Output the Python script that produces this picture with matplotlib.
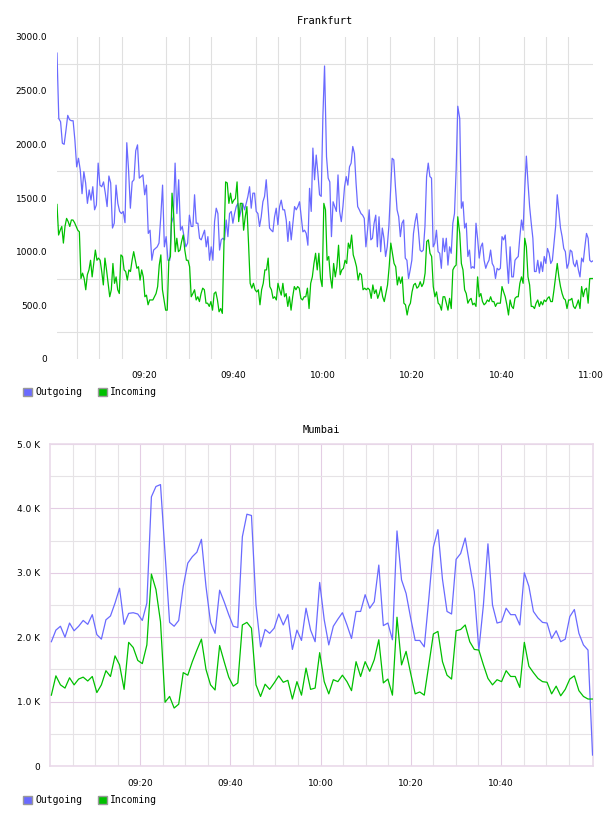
import numpy as np
import matplotlib
matplotlib.use("Agg")
import matplotlib.pyplot as plt
from matplotlib.patches import Patch

fra_out_a = [2850, 2240, 2210, 2010, 2000, 2130, 2270, 2230, 2220, 2220, 2040, 1790, 1870, 1760, 1540, 1745,
             1640, 1450, 1575, 1480, 1605, 1390, 1435, 1825, 1620, 1605, 1650, 1545, 1420, 1705, 1640, 1220,
             1265, 1620, 1450, 1375, 1355, 1375, 1270, 2015, 1760, 1405, 1650, 1670, 1940, 1995, 1685, 1700,
             1715, 1530, 1620, 1170, 1200, 920, 1015, 1030, 1045, 1080, 1325, 1620, 1045, 1140, 920, 920,
             1265, 1325, 1825, 1355, 1670, 1200, 1235, 1140, 1045, 1080, 1340, 1235]
fra_out_b = [1235, 1530, 1265, 1265, 1125, 1110, 1155, 1200, 1045, 1140, 920, 1045, 920, 1280, 1405, 1355,
             1015, 1110, 1125, 1110, 1295, 1140, 1355, 1375, 1265, 1355, 1420, 1450, 1325, 1390, 1450, 1390,
             1450, 1515, 1605, 1405, 1545, 1545, 1375, 1355, 1235, 1325, 1465, 1515, 1670, 1450, 1220, 1200,
             1185, 1325, 1405, 1250, 1420, 1480, 1390, 1390, 1295, 1095, 1280, 1110, 1265, 1420, 1390, 1420,
             1465, 1325, 1185, 1200, 1170, 1060, 1590, 1375, 1965, 1670, 1900, 1730, 1530, 1515, 2260, 2730]
fra_out_c = [1885, 1685, 1650, 1140, 1465, 1420, 1375, 1715, 1375, 1280, 1420, 1605, 1700, 1620, 1790, 1825,
             1980, 1915, 1640, 1420, 1390, 1355, 1340, 1310, 1045, 1200, 1390, 1110, 1125, 1265, 1340, 1045,
             1325, 1000, 1220, 1125, 955, 1045, 1235, 1545, 1870, 1855, 1605, 1390, 1325, 1140, 1265, 1295,
             940, 920, 750, 830, 920, 1170, 1280, 1355, 1200, 1015, 1000, 1015, 1235, 1700, 1825, 1700,
             1685, 1045, 1080, 1200, 1000, 985, 845, 1125, 1000, 1125, 875, 1045, 985, 1265, 1355, 1760, 2355]
fra_out_d = [2240, 1405, 1465, 1220, 1265, 955, 1015, 845, 860, 845, 1265, 1120, 940, 1045, 1080, 920,
             845, 890, 920, 1015, 890, 860, 750, 845, 830, 845, 1140, 1110, 1155, 920, 705, 1045,
             765, 765, 920, 940, 955, 1140, 1295, 1200, 1590, 1890, 1640, 1420, 1265, 1125, 815, 815,
             920, 800, 905, 815, 955, 890, 1030, 985, 890, 920, 1080, 1235, 1530, 1375, 1220, 1140,
             1030, 1000, 845, 890, 1015, 1000, 890, 860, 920, 830, 765, 940, 905, 1045, 1170, 1125,
             920, 905, 915]

fra_in_a = [1440, 1155, 1200, 1235, 1080, 1235, 1310, 1280, 1235, 1295, 1295, 1270, 1235, 1200, 1185, 750,
            800, 750, 645, 785, 830, 920, 765, 890, 1015, 920, 940, 920, 815, 690, 940, 830,
            705, 580, 645, 890, 705, 765, 645, 610, 970, 955, 830, 815, 735, 830, 815, 920,
            1000, 920, 845, 860, 735, 830, 765, 580, 595, 505, 550, 550, 550, 580, 610, 675,
            875, 970, 645, 550, 455, 455, 920, 955, 1545, 1355, 1000, 1125, 1000, 1015, 1095, 1155,
            1015, 920, 920, 860, 580]
fra_in_b = [610, 645, 550, 580, 535, 610, 660, 645, 520, 520, 490, 535, 455, 610, 625, 550,
            440, 470, 425, 1080, 1650, 1640, 1450, 1545, 1450, 1480, 1495, 1650, 1280, 1450, 1450, 1200,
            1325, 1420, 1080, 705, 660, 705, 645, 625, 645, 505, 645, 705, 830, 830, 940, 675,
            645, 565, 580, 550, 705, 645, 595, 705, 580, 610, 490, 580, 455, 580, 675, 645,
            675, 660, 565, 550, 580, 580, 660, 470, 705, 765, 890, 985, 830, 985, 750, 675]
fra_in_c = [1450, 1390, 920, 955, 765, 660, 890, 765, 860, 1060, 785, 830, 845, 920, 890, 1080,
            1030, 1155, 970, 920, 860, 735, 800, 785, 645, 660, 645, 660, 645, 565, 690, 610,
            645, 565, 610, 675, 580, 535, 610, 690, 860, 1080, 985, 890, 860, 690, 765, 705,
            765, 520, 505, 410, 490, 520, 625, 690, 705, 660, 675, 720, 675, 705, 800, 1095,
            1110, 985, 955, 675, 580, 625, 520, 505, 455, 580, 580, 520, 455, 565, 470, 830,
            860, 875, 1325]
fra_in_d = [1170, 890, 830, 645, 610, 520, 550, 565, 505, 520, 490, 765, 580, 610, 535, 505,
            520, 550, 535, 580, 535, 535, 490, 520, 520, 520, 675, 625, 580, 505, 410, 550,
            490, 470, 565, 580, 580, 705, 765, 705, 1125, 1045, 765, 690, 490, 490, 470, 520,
            550, 490, 535, 505, 550, 535, 565, 580, 535, 535, 645, 765, 890, 765, 675, 610,
            565, 550, 470, 550, 550, 565, 490, 470, 505, 550, 470, 675, 580, 645, 660, 520,
            750, 750, 750]

fra_out_spans = [(0.54, 30.58), (30.96, 60.43), (60.87, 90.25), (90.69, 120.52)]
fra_in_spans = [(0.54, 30.58), (30.96, 59.89), (60.27, 90.25), (90.69, 120.52)]

# Mumbai, one sample per minute, in thousands
mum_out_k = [1.93, 2.11, 2.17, 2.00, 2.22, 2.10, 2.17, 2.26, 2.20, 2.35, 2.04, 1.97, 2.27, 2.33, 2.53, 2.76,
             2.20, 2.37, 2.38, 2.36, 2.26, 2.53, 4.18, 4.34, 4.37, 3.30, 2.23, 2.17, 2.26, 2.79, 3.15, 3.25,
             3.32, 3.52, 2.79, 2.23, 2.06, 2.73, 2.55, 2.35, 2.17, 2.15, 3.56, 3.91, 3.89, 2.50, 1.85, 2.12,
             2.06, 2.14, 2.36, 2.19, 2.35, 1.81, 2.11, 1.95, 2.45, 2.11, 1.93, 2.85,
             2.27, 1.88, 2.17, 2.28, 2.38, 2.19, 1.98, 2.40, 2.40, 2.66, 2.45, 2.55, 3.12, 2.18, 2.22, 1.96,
             3.65, 2.89, 2.68, 2.30, 1.95, 1.95, 1.85, 2.60, 3.40, 3.67, 2.90, 2.40, 2.36, 3.21, 3.30, 3.54,
             3.12, 2.71, 1.80, 2.50, 3.45, 2.50, 2.22, 2.24, 2.45, 2.35, 2.35, 2.19, 3.00, 2.79, 2.40, 2.30,
             2.23, 2.22, 1.98, 2.10, 1.93, 1.97, 2.32, 2.43, 2.06, 1.88, 1.80, 0.17]
mum_in_k = [1.10, 1.40, 1.26, 1.21, 1.37, 1.26, 1.35, 1.38, 1.32, 1.39, 1.14, 1.26, 1.48, 1.39, 1.71, 1.57,
            1.19, 1.92, 1.84, 1.64, 1.59, 1.88, 2.98, 2.74, 2.24, 0.99, 1.08, 0.90, 0.96, 1.45, 1.41, 1.62,
            1.80, 1.97, 1.50, 1.26, 1.18, 1.87, 1.62, 1.38, 1.24, 1.29, 2.19, 2.23, 2.14, 1.26, 1.08, 1.27,
            1.19, 1.29, 1.40, 1.30, 1.33, 1.04, 1.31, 1.10, 1.52, 1.19, 1.21, 1.76,
            1.31, 1.12, 1.34, 1.31, 1.41, 1.31, 1.17, 1.62, 1.39, 1.62, 1.47, 1.65, 1.96, 1.29, 1.35, 1.10,
            2.31, 1.57, 1.78, 1.44, 1.12, 1.15, 1.10, 1.57, 2.05, 2.09, 1.62, 1.41, 1.35, 2.10, 2.12, 2.19,
            1.93, 1.81, 1.80, 1.57, 1.36, 1.26, 1.34, 1.31, 1.48, 1.39, 1.39, 1.22, 1.92, 1.55, 1.45, 1.36,
            1.31, 1.30, 1.12, 1.24, 1.09, 1.19, 1.35, 1.40, 1.17, 1.08, 1.04, 1.04]
mum_start, mum_end = 0.3, 120.3

time_ticks = [20, 40, 60, 80, 100, 120]
time_labels = ["09:20", "09:40", "10:00", "10:20", "10:40", "11:00"]

OUT_COLOR = "#6a6aff"
IN_COLOR = "#00c000"
MONO = "DejaVu Sans Mono"
SANS = "DejaVu Sans"


def stitch(segments, spans):
    ts, vs = [], []
    for vals, (t0, t1) in zip(segments, spans):
        ts.extend(np.linspace(t0, t1, len(vals)))
        vs.extend(vals)
    return np.array(ts), np.array(vs)


def add_legend(ax, y):
    handles = [Patch(facecolor=OUT_COLOR, edgecolor="#999999", linewidth=1.0),
               Patch(facecolor=IN_COLOR, edgecolor="#999999", linewidth=1.0)]
    ax.legend(handles, ["Outgoing", "Incoming"], loc="center left",
              bbox_to_anchor=(0.024, y), bbox_transform=fig.transFigure,
              ncol=2, frameon=False, handlelength=0.9, handleheight=0.9,
              handletextpad=0.35, columnspacing=1.6,
              prop={"family": MONO, "size": 7})


fig = plt.figure(figsize=(6.08, 8.16), dpi=100)

# ---- Frankfurt
ax1 = fig.add_axes([57 / 608, 1 - 359 / 816, 536 / 608, 322 / 816])
t, v = stitch([fra_out_a, fra_out_b, fra_out_c, fra_out_d], fra_out_spans)
ax1.plot(t, v, color=OUT_COLOR, lw=0.9, zorder=3)
t, v = stitch([fra_in_a, fra_in_b, fra_in_c, fra_in_d], fra_in_spans)
ax1.plot(t, v, color=IN_COLOR, lw=0.9, zorder=3)
ax1.set_xlim(fra_out_spans[0][0], fra_out_spans[-1][1])
ax1.set_ylim(0, 3000)
ax1.set_xticks(time_ticks)
ax1.set_xticklabels(time_labels)
ax1.set_xticks(np.arange(5, 121, 5), minor=True)
ax1.set_yticks(np.arange(0, 3001, 500))
ax1.set_yticklabels(["0"] + ["%.1f" % y for y in np.arange(500, 3001, 500)])
ax1.set_yticks(np.arange(250, 3000, 500), minor=True)
ax1.grid(which="minor", color="#e0e0e0", lw=0.8)
ax1.grid(which="major", visible=False)
ax1.tick_params(which="both", length=0)
ax1.tick_params(axis="y", pad=7, labelsize=6.5)
ax1.tick_params(axis="x", pad=9, labelsize=6.5)
for lab in ax1.get_xticklabels() + ax1.get_yticklabels():
    lab.set_family(SANS)
for s in ax1.spines.values():
    s.set_visible(False)
ax1.set_title("Frankfurt", family=MONO, fontsize=7.5, pad=9)
add_legend(ax1, 1 - 392 / 816)

# ---- Mumbai
ax2 = fig.add_axes([50 / 608, 1 - 766 / 816, 543 / 608, 322 / 816])
tm = np.linspace(mum_start, mum_end, len(mum_out_k))
ax2.plot(tm, mum_out_k, color=OUT_COLOR, lw=0.9, zorder=3)
ax2.plot(tm, mum_in_k, color=IN_COLOR, lw=0.9, zorder=3)
ax2.set_xlim(0, 120.4)
ax2.set_ylim(0, 5)
ax2.set_xticks(time_ticks[:-1])
ax2.set_xticklabels(time_labels[:-1])
ax2.set_xticks(np.arange(5, 120, 5), minor=True)
ax2.set_yticks(np.arange(0, 6, 1))
ax2.set_yticklabels(["0"] + ["%.1f K" % y for y in range(1, 6)])
ax2.set_yticks(np.arange(0.5, 5, 0.5), minor=True)
ax2.grid(which="minor", color="#e6e3e6", lw=0.8, zorder=0)
ax2.grid(which="major", color="#e4cde4", lw=0.8, zorder=1)
ax2.tick_params(which="both", length=0)
ax2.tick_params(axis="y", pad=7, labelsize=6.5)
ax2.tick_params(axis="x", pad=9, labelsize=6.5)
for lab in ax2.get_xticklabels() + ax2.get_yticklabels():
    lab.set_family(SANS)
for s in ax2.spines.values():
    s.set_color("#eadaea")
    s.set_linewidth(1.2)
ax2.set_title("Mumbai", family=MONO, fontsize=7.5, pad=8)
add_legend(ax2, 1 - 800 / 816)

fig.savefig("out.png", dpi=100)
